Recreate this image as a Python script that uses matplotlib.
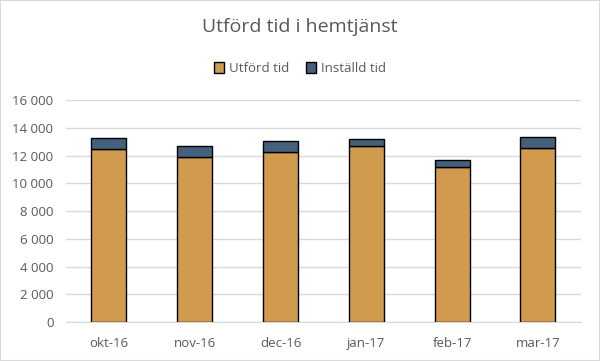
import matplotlib
matplotlib.use("Agg")
import matplotlib.pyplot as plt
from matplotlib.ticker import FuncFormatter

plt.rcParams['font.family'] = ['Open Sans', 'DejaVu Sans']

# data
manader = ['okt-16', 'nov-16', 'dec-16', 'jan-17', 'feb-17', 'mar-17']
utford = [12470, 11910, 12270, 12710, 11190, 12560]
installd = [770, 750, 750, 460, 460, 750]

fig = plt.figure(figsize=(6, 3.61), dpi=100)
ax = fig.add_axes([0.11, 0.108, 0.858, 0.615])

x = range(len(manader))
ax.bar(x, utford, width=0.41, color='#D09B4E', edgecolor='black', linewidth=1, label='Utförd tid', zorder=3)
ax.bar(x, installd, width=0.41, bottom=utford, color='#44607D', edgecolor='black', linewidth=1, label='Inställd tid', zorder=3)

ax.set_xlim(-0.5, len(manader) - 0.5)
ax.set_ylim(0, 16000)
ax.set_yticks(range(0, 16001, 2000))
ax.yaxis.set_major_formatter(FuncFormatter(lambda v, p: f'{int(v):,}'.replace(',', ' ')))
ax.set_xticks(list(x))
ax.set_xticklabels(manader)
ax.grid(axis='y', color='#D9D9D9', linewidth=1, zorder=0)
for s in ['top', 'right', 'left']:
    ax.spines[s].set_visible(False)
ax.spines['bottom'].set_color('#D9D9D9')
ax.tick_params(length=0, colors='#595959', labelsize=9.5)
ax.tick_params(axis='x', pad=11)
ax.tick_params(axis='y', pad=9)

fig.text(0.5, 0.925, 'Utförd tid i hemtjänst', ha='center', va='center', fontsize=14, color='#595959')
fig.legend(loc='center', bbox_to_anchor=(0.5, 0.81), ncol=2, frameon=False, fontsize=9.5,
           labelcolor='#595959', handlelength=0.8, handleheight=0.8, columnspacing=1.2, handletextpad=0.4)

# light border around the figure
fig.patches.append(plt.Rectangle((0, 0), 1, 1, transform=fig.transFigure, fill=False,
                                 edgecolor='#D9D9D9', linewidth=1.5))

plt.savefig('out.png', dpi=100)
